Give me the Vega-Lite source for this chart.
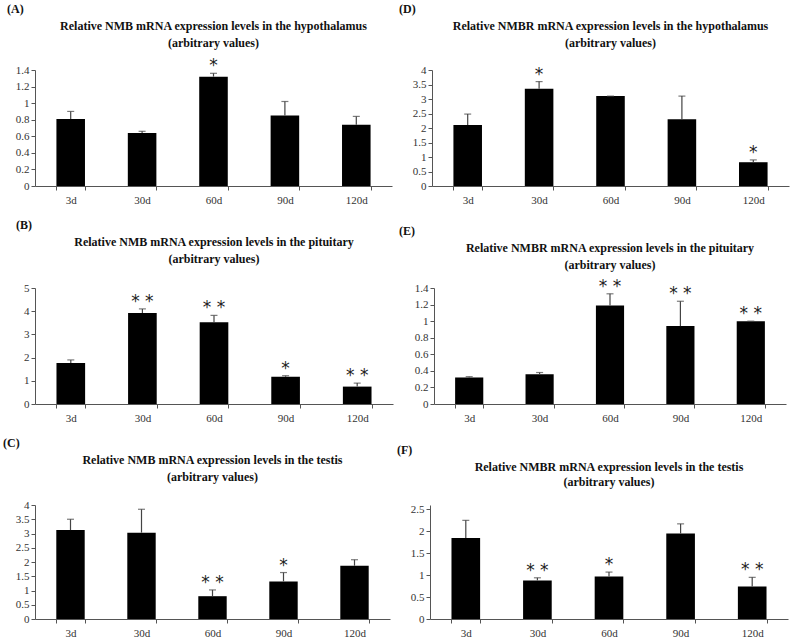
{
  "$schema": "https://vega.github.io/schema/vega-lite/v6.json",
  "background": "white",
  "padding": {"left": 3, "top": 3, "right": 2, "bottom": 2},
  "config": {
    "view": {"stroke": null},
    "font": "Liberation Serif",
    "concat": {"spacing": 14},
    "axis": {"grid": false, "domainColor": "#555", "tickColor": "#555", "labelFont": "Liberation Serif", "labelFontSize": 11, "labelColor": "#333", "tickSize": 4, "title": null},
    "title": {"font": "Liberation Serif", "fontWeight": "bold", "fontSize": 12, "color": "#111"}
  },
  "datasets": {
    "A": [
      {"day": "3d", "value": 0.81, "err": 0.90, "sig": ""},
      {"day": "30d", "value": 0.64, "err": 0.66, "sig": ""},
      {"day": "60d", "value": 1.32, "err": 1.36, "sig": "*"},
      {"day": "90d", "value": 0.85, "err": 1.02, "sig": ""},
      {"day": "120d", "value": 0.74, "err": 0.84, "sig": ""}
    ],
    "D": [
      {"day": "3d", "value": 2.1, "err": 2.48, "sig": ""},
      {"day": "30d", "value": 3.35, "err": 3.6, "sig": "*"},
      {"day": "60d", "value": 3.1, "err": 3.1, "sig": ""},
      {"day": "90d", "value": 2.3, "err": 3.1, "sig": ""},
      {"day": "120d", "value": 0.82, "err": 0.9, "sig": "*"}
    ],
    "B": [
      {"day": "3d", "value": 1.77, "err": 1.9, "sig": ""},
      {"day": "30d", "value": 3.92, "err": 4.1, "sig": "* *"},
      {"day": "60d", "value": 3.52, "err": 3.82, "sig": "* *"},
      {"day": "90d", "value": 1.17, "err": 1.22, "sig": "*"},
      {"day": "120d", "value": 0.75, "err": 0.9, "sig": "* *"}
    ],
    "E": [
      {"day": "3d", "value": 0.32, "err": 0.33, "sig": ""},
      {"day": "30d", "value": 0.36, "err": 0.38, "sig": ""},
      {"day": "60d", "value": 1.19, "err": 1.33, "sig": "* *"},
      {"day": "90d", "value": 0.94, "err": 1.24, "sig": "* *"},
      {"day": "120d", "value": 1.0, "err": 1.0, "sig": "* *"}
    ],
    "C": [
      {"day": "3d", "value": 3.12, "err": 3.5, "sig": ""},
      {"day": "30d", "value": 3.03, "err": 3.85, "sig": ""},
      {"day": "60d", "value": 0.8, "err": 1.02, "sig": "* *"},
      {"day": "90d", "value": 1.32, "err": 1.63, "sig": "*"},
      {"day": "120d", "value": 1.87, "err": 2.08, "sig": ""}
    ],
    "F": [
      {"day": "3d", "value": 1.85, "err": 2.25, "sig": ""},
      {"day": "30d", "value": 0.88, "err": 0.94, "sig": "* *"},
      {"day": "60d", "value": 0.97, "err": 1.07, "sig": "*"},
      {"day": "90d", "value": 1.95, "err": 2.17, "sig": ""},
      {"day": "120d", "value": 0.74, "err": 0.95, "sig": "* *"}
    ]
  },
  "vconcat": [
    {"spacing": 7, "hconcat": [
      {"title": {"text": "(A)", "anchor": "start", "offset": 4}, "vconcat": [{
        "width": 357, "height": 116, "data": {"name": "A"},
        "title": {"text": ["Relative NMB mRNA expression levels in the hypothalamus", "(arbitrary values)"], "lineHeight": 17, "offset": 7},
        "encoding": {"x": {"field": "day", "type": "ordinal", "sort": ["3d","30d","60d","90d","120d"], "scale": {"paddingInner": 0.6, "paddingOuter": 0.3}, "axis": {"labelAngle": 0, "tickBand": "extent", "labelPadding": 4}}},
        "layer": [
          {"mark": {"type": "bar", "color": "black"}, "encoding": {"y": {"field": "value", "type": "quantitative", "scale": {"domain": [0, 1.4]}, "axis": {"values": [0,0.2,0.4,0.6,0.8,1,1.2,1.4], "format": "~g", "minExtent": 28}}}},
          {"mark": {"type": "rule", "color": "#444", "strokeWidth": 1.2}, "encoding": {"y": {"field": "value", "type": "quantitative", "axis": {"values": [0,0.2,0.4,0.6,0.8,1,1.2,1.4], "format": "~g", "minExtent": 28}}, "y2": {"field": "err"}}},
          {"mark": {"type": "tick", "color": "#444", "size": 7, "thickness": 1.2}, "encoding": {"y": {"field": "err", "type": "quantitative", "axis": {"values": [0,0.2,0.4,0.6,0.8,1,1.2,1.4], "format": "~g", "minExtent": 28}}}},
          {"mark": {"type": "text", "baseline": "bottom", "dy": 2, "fontSize": 17, "font": "DejaVu Sans", "color": "#222"}, "encoding": {"y": {"field": "err", "type": "quantitative", "axis": {"values": [0,0.2,0.4,0.6,0.8,1,1.2,1.4], "format": "~g", "minExtent": 28}}, "text": {"field": "sig"}}}
        ]
      }]},
      {"title": {"text": "(D)", "anchor": "start", "offset": 4}, "vconcat": [{
        "width": 357, "height": 116, "data": {"name": "D"},
        "title": {"text": ["Relative NMBR mRNA expression levels in the hypothalamus", "(arbitrary values)"], "lineHeight": 17, "offset": 14},
        "encoding": {"x": {"field": "day", "type": "ordinal", "sort": ["3d","30d","60d","90d","120d"], "scale": {"paddingInner": 0.6, "paddingOuter": 0.3}, "axis": {"labelAngle": 0, "tickBand": "extent", "labelPadding": 4}}},
        "layer": [
          {"mark": {"type": "bar", "color": "black"}, "encoding": {"y": {"field": "value", "type": "quantitative", "scale": {"domain": [0, 4]}, "axis": {"values": [0,0.5,1,1.5,2,2.5,3,3.5,4], "format": "~g", "minExtent": 33}}}},
          {"mark": {"type": "rule", "color": "#444", "strokeWidth": 1.2}, "encoding": {"y": {"field": "value", "type": "quantitative", "axis": {"values": [0,0.5,1,1.5,2,2.5,3,3.5,4], "format": "~g", "minExtent": 33}}, "y2": {"field": "err"}}},
          {"mark": {"type": "tick", "color": "#444", "size": 7, "thickness": 1.2}, "encoding": {"y": {"field": "err", "type": "quantitative", "axis": {"values": [0,0.5,1,1.5,2,2.5,3,3.5,4], "format": "~g", "minExtent": 33}}}},
          {"mark": {"type": "text", "baseline": "bottom", "dy": 2, "fontSize": 17, "font": "DejaVu Sans", "color": "#222"}, "encoding": {"y": {"field": "err", "type": "quantitative", "axis": {"values": [0,0.5,1,1.5,2,2.5,3,3.5,4], "format": "~g", "minExtent": 33}}, "text": {"field": "sig"}}}
        ]
      }]}
    ]},
    {"spacing": 6, "hconcat": [
      {"title": {"text": "(B)", "anchor": "start", "offset": 4}, "vconcat": [{
        "width": 358, "height": 116, "data": {"name": "B"},
        "title": {"text": ["Relative NMB mRNA expression levels in the pituitary", "(arbitrary values)"], "lineHeight": 17, "offset": 16},
        "encoding": {"x": {"field": "day", "type": "ordinal", "sort": ["3d","30d","60d","90d","120d"], "scale": {"paddingInner": 0.6, "paddingOuter": 0.3}, "axis": {"labelAngle": 0, "tickBand": "extent", "labelPadding": 4}}},
        "layer": [
          {"mark": {"type": "bar", "color": "black"}, "encoding": {"y": {"field": "value", "type": "quantitative", "scale": {"domain": [0, 5]}, "axis": {"values": [0,1,2,3,4,5], "format": "~g", "minExtent": 19}}}},
          {"mark": {"type": "rule", "color": "#444", "strokeWidth": 1.2}, "encoding": {"y": {"field": "value", "type": "quantitative", "axis": {"values": [0,1,2,3,4,5], "format": "~g", "minExtent": 19}}, "y2": {"field": "err"}}},
          {"mark": {"type": "tick", "color": "#444", "size": 7, "thickness": 1.2}, "encoding": {"y": {"field": "err", "type": "quantitative", "axis": {"values": [0,1,2,3,4,5], "format": "~g", "minExtent": 19}}}},
          {"mark": {"type": "text", "baseline": "bottom", "dy": 2, "fontSize": 17, "font": "DejaVu Sans", "color": "#222"}, "encoding": {"y": {"field": "err", "type": "quantitative", "axis": {"values": [0,1,2,3,4,5], "format": "~g", "minExtent": 19}}, "text": {"field": "sig"}}}
        ]
      }]},
      {"title": {"text": "(E)", "anchor": "start", "offset": 4}, "vconcat": [{
        "width": 352, "height": 116, "data": {"name": "E"},
        "title": {"text": ["Relative NMBR mRNA expression levels in the pituitary", "(arbitrary values)"], "lineHeight": 17, "offset": 6},
        "encoding": {"x": {"field": "day", "type": "ordinal", "sort": ["3d","30d","60d","90d","120d"], "scale": {"paddingInner": 0.6, "paddingOuter": 0.3}, "axis": {"labelAngle": 0, "tickBand": "extent", "labelPadding": 4}}},
        "layer": [
          {"mark": {"type": "bar", "color": "black"}, "encoding": {"y": {"field": "value", "type": "quantitative", "scale": {"domain": [0, 1.4]}, "axis": {"values": [0,0.2,0.4,0.6,0.8,1,1.2,1.4], "format": "~g", "minExtent": 35}}}},
          {"mark": {"type": "rule", "color": "#444", "strokeWidth": 1.2}, "encoding": {"y": {"field": "value", "type": "quantitative", "axis": {"values": [0,0.2,0.4,0.6,0.8,1,1.2,1.4], "format": "~g", "minExtent": 35}}, "y2": {"field": "err"}}},
          {"mark": {"type": "tick", "color": "#444", "size": 7, "thickness": 1.2}, "encoding": {"y": {"field": "err", "type": "quantitative", "axis": {"values": [0,0.2,0.4,0.6,0.8,1,1.2,1.4], "format": "~g", "minExtent": 35}}}},
          {"mark": {"type": "text", "baseline": "bottom", "dy": 2, "fontSize": 17, "font": "DejaVu Sans", "color": "#222"}, "encoding": {"y": {"field": "err", "type": "quantitative", "axis": {"values": [0,0.2,0.4,0.6,0.8,1,1.2,1.4], "format": "~g", "minExtent": 35}}, "text": {"field": "sig"}}}
        ]
      }]}
    ]},
    {"spacing": 7, "hconcat": [
      {"title": {"text": "(C)", "anchor": "start", "offset": 4}, "vconcat": [{
        "width": 355, "height": 114, "data": {"name": "C"},
        "title": {"text": ["Relative NMB mRNA expression levels in the testis", "(arbitrary values)"], "lineHeight": 17, "offset": 9},
        "encoding": {"x": {"field": "day", "type": "ordinal", "sort": ["3d","30d","60d","90d","120d"], "scale": {"paddingInner": 0.6, "paddingOuter": 0.3}, "axis": {"labelAngle": 0, "tickBand": "extent", "labelPadding": 4}}},
        "layer": [
          {"mark": {"type": "bar", "color": "black"}, "encoding": {"y": {"field": "value", "type": "quantitative", "scale": {"domain": [0, 4]}, "axis": {"values": [0,0.5,1,1.5,2,2.5,3,3.5,4], "format": "~g", "minExtent": 32}}}},
          {"mark": {"type": "rule", "color": "#444", "strokeWidth": 1.2}, "encoding": {"y": {"field": "value", "type": "quantitative", "axis": {"values": [0,0.5,1,1.5,2,2.5,3,3.5,4], "format": "~g", "minExtent": 32}}, "y2": {"field": "err"}}},
          {"mark": {"type": "tick", "color": "#444", "size": 7, "thickness": 1.2}, "encoding": {"y": {"field": "err", "type": "quantitative", "axis": {"values": [0,0.5,1,1.5,2,2.5,3,3.5,4], "format": "~g", "minExtent": 32}}}},
          {"mark": {"type": "text", "baseline": "bottom", "dy": 2, "fontSize": 17, "font": "DejaVu Sans", "color": "#222"}, "encoding": {"y": {"field": "err", "type": "quantitative", "axis": {"values": [0,0.5,1,1.5,2,2.5,3,3.5,4], "format": "~g", "minExtent": 32}}, "text": {"field": "sig"}}}
        ]
      }]},
      {"title": {"text": "(F)", "anchor": "start", "offset": 4}, "vconcat": [{
        "width": 358, "height": 114, "data": {"name": "F"},
        "title": {"text": ["Relative NMBR mRNA expression levels in the testis", "(arbitrary values)"], "lineHeight": 15, "offset": 14},
        "encoding": {"x": {"field": "day", "type": "ordinal", "sort": ["3d","30d","60d","90d","120d"], "scale": {"paddingInner": 0.6, "paddingOuter": 0.3}, "axis": {"labelAngle": 0, "tickBand": "extent", "labelPadding": 4}}},
        "layer": [
          {"mark": {"type": "bar", "color": "black"}, "encoding": {"y": {"field": "value", "type": "quantitative", "scale": {"domain": [0, 2.5]}, "axis": {"values": [0,0.5,1,1.5,2,2.5], "format": "~g", "minExtent": 33}}}},
          {"mark": {"type": "rule", "color": "#444", "strokeWidth": 1.2}, "encoding": {"y": {"field": "value", "type": "quantitative", "axis": {"values": [0,0.5,1,1.5,2,2.5], "format": "~g", "minExtent": 33}}, "y2": {"field": "err"}}},
          {"mark": {"type": "tick", "color": "#444", "size": 7, "thickness": 1.2}, "encoding": {"y": {"field": "err", "type": "quantitative", "axis": {"values": [0,0.5,1,1.5,2,2.5], "format": "~g", "minExtent": 33}}}},
          {"mark": {"type": "text", "baseline": "bottom", "dy": 2, "fontSize": 17, "font": "DejaVu Sans", "color": "#222"}, "encoding": {"y": {"field": "err", "type": "quantitative", "axis": {"values": [0,0.5,1,1.5,2,2.5], "format": "~g", "minExtent": 33}}, "text": {"field": "sig"}}}
        ]
      }]}
    ]}
  ]
}
